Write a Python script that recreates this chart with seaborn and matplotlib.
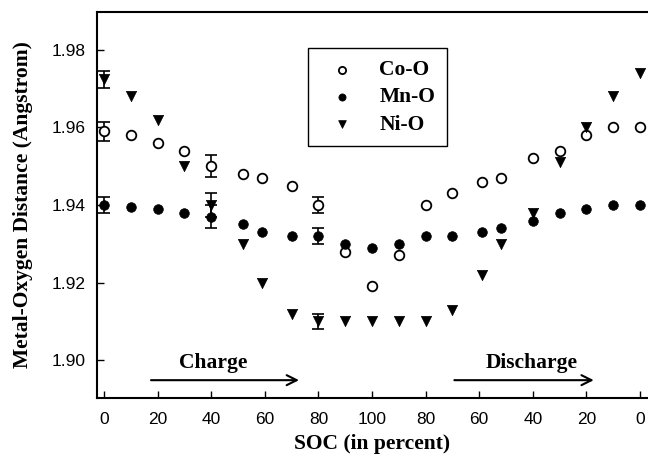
import matplotlib
matplotlib.use("Agg")
import matplotlib.pyplot as plt
import seaborn as sns
import numpy as np
import pandas as pd

# Position along the charge/discharge cycle (0 -> 100 -> 0 % SOC mapped onto 0..200)
cycle_pos = [0, 10, 20, 30, 40, 52, 59, 70, 80, 90, 100, 110, 120,
             130, 141, 148, 160, 170, 180, 190, 200]

co_o = [1.959, 1.958, 1.956, 1.954, 1.950, 1.948, 1.947, 1.945, 1.940, 1.928, 1.919,
        1.927, 1.940, 1.943, 1.946, 1.947, 1.952, 1.954, 1.958, 1.960, 1.960]
mn_o = [1.940, 1.9396, 1.939, 1.938, 1.937, 1.935, 1.933, 1.932, 1.932, 1.930, 1.929,
        1.930, 1.932, 1.932, 1.933, 1.934, 1.936, 1.938, 1.939, 1.940, 1.940]
ni_o = [1.9725, 1.968, 1.962, 1.950, 1.940, 1.930, 1.920, 1.912, 1.910, 1.910, 1.910,
        1.910, 1.910, 1.913, 1.922, 1.930, 1.938, 1.951, 1.960, 1.968, 1.974]

# Error bars at 0, 40 and 80 % SOC on charge
err_pos = [0, 40, 80]
co_err = [0.0024, 0.0028, 0.0020]
mn_err = [0.0020, 0.0030, 0.0021]
ni_err = [0.0022, 0.0030, 0.0019]

tick_pos = [0, 20, 40, 60, 80, 100, 120, 140, 160, 180, 200]
tick_labels = ["0", "20", "40", "60", "80", "100", "80", "60", "40", "20", "0"]
ytick_vals = [1.90, 1.92, 1.94, 1.96, 1.98]

df = pd.DataFrame({"pos": cycle_pos, "Co-O": co_o, "Mn-O": mn_o, "Ni-O": ni_o})

sns.set_theme(style="ticks")
plt.rcParams["font.family"] = ["Liberation Sans", "DejaVu Sans"]
plt.rcParams["text.color"] = "black"
plt.rcParams["axes.labelcolor"] = "black"

W, H = 648, 459
fig = plt.figure(figsize=(W / 100, H / 100), dpi=100)
ax = fig.add_axes([96.5 / W, 1 - 398 / H, 1 - 96.5 / W, (398 - 12) / H])

def val(series, positions):
    return [series[cycle_pos.index(p)] for p in positions]

for series, errs in ((co_o, co_err), (mn_o, mn_err), (ni_o, ni_err)):
    ax.errorbar(err_pos, val(series, err_pos), yerr=errs, fmt="none", ecolor="black",
                elinewidth=1.2, capsize=4, capthick=1.2, zorder=2)

sns.scatterplot(data=df, x="pos", y="Co-O", marker="o", s=48, facecolor="white",
                edgecolor="black", linewidth=1.3, label="Co-O", ax=ax, zorder=3)
sns.scatterplot(data=df, x="pos", y="Mn-O", marker="o", s=48, color="black",
                edgecolor="black", linewidth=0.5, label="Mn-O", ax=ax, zorder=3)
sns.scatterplot(data=df, x="pos", y="Ni-O", marker="v", s=55, color="black",
                edgecolor="black", linewidth=0.5, label="Ni-O", ax=ax, zorder=3)

ax.set_xlim(-2.8, 203)
ax.set_ylim(1.8902, 1.9898)
ax.set_xticks(tick_pos)
ax.set_xticklabels(tick_labels)
ax.set_yticks(ytick_vals)
ax.set_yticklabels([f"{v:.2f}" for v in ytick_vals])
ax.tick_params(direction="in", length=5, width=1, labelsize=12.5, colors="black", pad=8)
ax.tick_params(axis="x", pad=10)

for side in ("left", "bottom", "top"):
    ax.spines[side].set_linewidth(1.5)
    ax.spines[side].set_color("black")
ax.spines["right"].set_visible(False)

label_font = dict(family=["Liberation Serif", "DejaVu Serif"], weight="bold", size=15.5,
                  color="black")
ax.set_xlabel("SOC (in percent)", labelpad=5, **label_font)
ax.set_ylabel("Metal-Oxygen Distance (Angstrom)", labelpad=13, **label_font)

# Charge / discharge direction arrows
ax.annotate("", xy=(73.8, 1.8948), xytext=(16.5, 1.8948),
            arrowprops=dict(arrowstyle="->", color="black", lw=1.5, mutation_scale=18))
ax.annotate("", xy=(183.8, 1.8948), xytext=(129.7, 1.8948),
            arrowprops=dict(arrowstyle="->", color="black", lw=1.5, mutation_scale=18))
ax.text(40.7, 1.8992, "Charge", ha="center", va="center", **label_font)
ax.text(159.6, 1.8992, "Discharge", ha="center", va="center", **label_font)

leg = ax.legend(loc="upper left", bbox_to_anchor=(308.3 / W, 1 - 48.3 / H),
                bbox_transform=fig.transFigure, frameon=True, fancybox=False,
                edgecolor="black", framealpha=1, markerscale=0.75,
                prop=dict(family=["Liberation Serif", "DejaVu Serif"], weight="bold", size=15.5),
                borderpad=0.55, labelspacing=0.33, handletextpad=0.75, handlelength=2.0,
                borderaxespad=0)
leg.get_frame().set_linewidth(1.0)
for t in leg.get_texts():
    t.set_color("black")

fig.savefig("out.png", dpi=100)
